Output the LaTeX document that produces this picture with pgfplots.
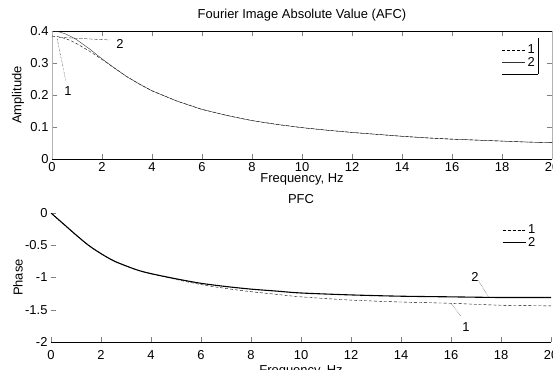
\documentclass[border=0pt]{standalone}
\usepackage{fontspec}
\setmainfont{Liberation Sans}
\usepackage{pgfplots}
\pgfplotsset{compat=1.18}
\usepackage{pgfplotstable}

\pgfplotstableread{
x y
0 0.384
0.25 0.382
0.5 0.377
0.75 0.370
1 0.360
1.5 0.337
2 0.311
2.5 0.284
3 0.257
3.5 0.234
4 0.213
5 0.181
6 0.155
7 0.136
8 0.120
9 0.108
10 0.098
11 0.090
12 0.083
13 0.077
14 0.071
15 0.066
16 0.062
17 0.059
18 0.056
19 0.053
20 0.051
}\ampOne

\pgfplotstableread{
x y
0 0.400
0.25 0.398
0.5 0.392
0.75 0.383
1 0.372
1.5 0.344
2 0.313
2.5 0.284
3 0.257
3.5 0.234
4 0.213
5 0.181
6 0.155
7 0.136
8 0.120
9 0.108
10 0.098
11 0.090
12 0.083
13 0.077
14 0.071
15 0.066
16 0.062
17 0.059
18 0.056
19 0.053
20 0.051
}\ampTwo

\pgfplotstableread{
x y
0 0
0.5 -0.17
1 -0.34
1.5 -0.50
2 -0.63
2.5 -0.74
3 -0.82
3.5 -0.89
4 -0.94
5 -1.03
6 -1.11
7 -1.17
8 -1.22
9 -1.26
10 -1.30
12 -1.35
14 -1.38
16 -1.40
18 -1.43
20 -1.44
}\phaOne

\pgfplotstableread{
x y
0 0
0.5 -0.17
1 -0.34
1.5 -0.50
2 -0.63
2.5 -0.74
3 -0.82
3.5 -0.89
4 -0.94
5 -1.02
6 -1.09
7 -1.14
8 -1.18
9 -1.21
10 -1.24
12 -1.27
14 -1.29
16 -1.30
18 -1.31
20 -1.31
}\phaTwo

\begin{document}
\begin{tikzpicture}[font=\fontsize{13}{15}\selectfont]
\pgfplotsset{
  every axis/.append style={
    scale only axis, width=500bp,
    xmin=0, xmax=20, xtick={0,2,...,20},
    tick align=inside, major tick length=5bp,
    /pgf/number format/assume math mode=true,
    tick label style={font=\fontsize{13}{15}\selectfont},
    label style={font=\fontsize{13}{15}\selectfont},
    title style={font=\fontsize{13}{15}\selectfont},
    legend cell align=left,
    legend image code/.code={\draw[#1] (0bp,0bp) -- (23bp,0bp);},
  },
}
% ---- top panel ----
\begin{axis}[
  at={(52bp,-159bp)}, anchor=south west,
  height=128bp,
  ymin=0, ymax=0.4, ytick={0,0.1,...,0.4},
  separate axis lines,
  y axis line style={black!30},
  title={Fourier Image Absolute Value (AFC)},
  xlabel={Frequency, Hz},
  xlabel style={at={(axis description cs:0.5,0)}, anchor=north, yshift=-11bp},
  ylabel={Amplitude},
  every axis y label/.style={at={(axis description cs:-0.068,0.5)}, rotate=90, anchor=center},
  legend style={at={(rel axis cs:0.972,0.915)}, anchor=north east, draw=none, fill=none,
    font=\fontsize{13}{15}\selectfont, inner sep=1pt, row sep=-2.5pt},
]
\addplot[black, densely dashed, thin] table {\ampOne};
\addlegendentry{1}
\addplot[black!80, thin] table {\ampTwo};
\addlegendentry{2}
\draw[thin] (rel axis cs:0.972,0.945) -- (rel axis cs:0.972,0.664);
\draw[line width=1bp] (rel axis cs:0.9,0.664) -- (rel axis cs:0.972,0.664);
\draw[densely dashed, thin] (axis cs:0.3,0.38) -- (axis cs:2.3,0.372);
\node at (axis cs:2.72,0.36) {2};
\draw[densely dotted, thin] (axis cs:0.2,0.378) -- (axis cs:0.55,0.245);
\node at (axis cs:0.64,0.2125) {1};
\end{axis}
% ---- bottom panel ----
\begin{axis}[
  at={(51bp,-342bp)}, anchor=south west,
  height=129bp,
  ymin=-2, ymax=0, ytick={-2,-1.5,...,0},
  axis x line*=bottom, axis y line*=left,
  y axis line style={draw=none},
  xticklabel style={yshift=-5bp},
  title={PFC},
  xlabel={Frequency, Hz},
  xlabel style={at={(axis description cs:0.5,0)}, anchor=north, yshift=-20bp},
  ylabel={Phase},
  every axis y label/.style={at={(axis description cs:-0.066,0.5)}, rotate=90, anchor=center},
  legend style={at={(rel axis cs:0.975,0.935)}, anchor=north east, draw=none, fill=none,
    font=\fontsize{13}{15}\selectfont, inner sep=1pt, row sep=-2pt},
]
\addplot[black, densely dashed, thin, smooth] table {\phaOne};
\addlegendentry{1}
\addplot[black, line width=1.1bp, smooth] table {\phaTwo};
\addlegendentry{2}
\node at (axis cs:16.96,-0.99) {2};
\draw[densely dotted, thin] (axis cs:17.1,-1.05) -- (axis cs:17.5,-1.30);
\node at (axis cs:16.6,-1.77) {1};
\draw[densely dotted, thin] (axis cs:16.0,-1.40) -- (axis cs:16.4,-1.6);
\end{axis}
\pgfresetboundingbox
\path (0bp,-370bp) rectangle (553bp,0bp);
\end{tikzpicture}
\end{document}
